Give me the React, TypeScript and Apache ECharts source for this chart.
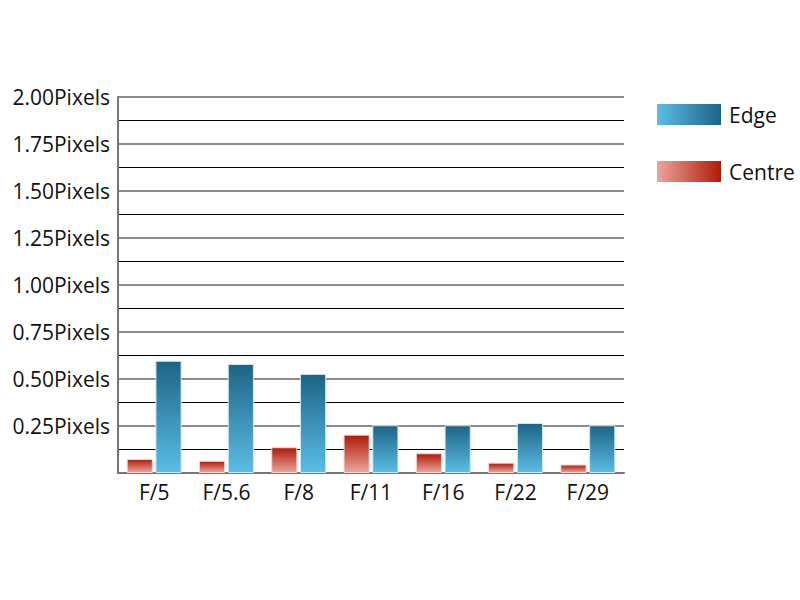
import React, { useEffect, useRef } from "react";
import * as echarts from "echarts";

const categories = ["F/5", "F/5.6", "F/8", "F/11", "F/16", "F/22", "F/29"];
const centreValues = [0.075, 0.065, 0.137, 0.204, 0.105, 0.055, 0.045];
const edgeValues = [0.597, 0.58, 0.527, 0.254, 0.254, 0.266, 0.254];

const FONT = "Open Sans";

const vGrad = (top: string, bottom: string) =>
  new echarts.graphic.LinearGradient(0, 0, 0, 1, [
    { offset: 0, color: top },
    { offset: 1, color: bottom },
  ]);
const hGrad = (left: string, right: string) =>
  new echarts.graphic.LinearGradient(0, 0, 1, 0, [
    { offset: 0, color: left },
    { offset: 1, color: right },
  ]);

export default function App() {
  const ref = useRef<HTMLDivElement>(null);
  useEffect(() => {
    if (!ref.current) return;
    const chart = echarts.init(ref.current, undefined, { renderer: "svg" });
    chart.setOption({
      animation: false,
      backgroundColor: "#ffffff",
      grid: { left: 118, right: 176, top: 97, bottom: 127, containLabel: false },
      legend: {
        orient: "vertical",
        left: 657,
        top: 104,
        padding: 0,
        itemWidth: 64,
        itemHeight: 21,
        itemGap: 36,
        icon: "rect",
        textStyle: { fontFamily: FONT, fontSize: 21, color: "#111", padding: [0, 0, 0, 3] },
        data: [
          { name: "Edge", itemStyle: { color: hGrad("#5bbde6", "#1d6484"), borderWidth: 0 } },
          { name: "Centre", itemStyle: { color: hGrad("#eba59c", "#b01a08"), borderWidth: 0 } },
        ],
      },
      xAxis: {
        type: "category",
        data: categories,
        axisLine: { lineStyle: { color: "#777", width: 2 } },
        axisTick: { inside: true, length: 7, lineStyle: { color: "#555", width: 1.5 } },
        axisLabel: { fontFamily: FONT, fontSize: 21, color: "#111", margin: 8 },
      },
      yAxis: {
        type: "value",
        min: 0,
        max: 2,
        interval: 0.25,
        axisLine: { show: true, lineStyle: { color: "#777", width: 2 } },
        axisTick: { show: false },
        minorTick: { show: false, splitNumber: 2 },
        splitLine: { show: true, lineStyle: { color: "#666", width: 1.5 } },
        minorSplitLine: { show: true, lineStyle: { color: "#000", width: 1 } },
        axisLabel: {
          fontFamily: FONT,
          fontSize: 21,
          color: "#111",
          margin: 8,
          formatter: (v: number) => (v === 0 ? "" : v.toFixed(2) + "Pixels"),
        },
      },
      series: [
        {
          name: "Centre",
          type: "bar",
          data: centreValues,
          barGap: "10%",
          barCategoryGap: "24%",
          itemStyle: { color: vGrad("#b01a08", "#eba59c"), borderColor: "#f4d6d2", borderWidth: 1 },
        },
        {
          name: "Edge",
          type: "bar",
          data: edgeValues,
          itemStyle: { color: vGrad("#1d6484", "#5bbde6"), borderColor: "#cde8f3", borderWidth: 1 },
        },
      ],
    });
    return () => chart.dispose();
  }, []);
  return <div ref={ref} style={{ width: 800, height: 600, position: "absolute", left: 0, top: 0 }} />;
}
